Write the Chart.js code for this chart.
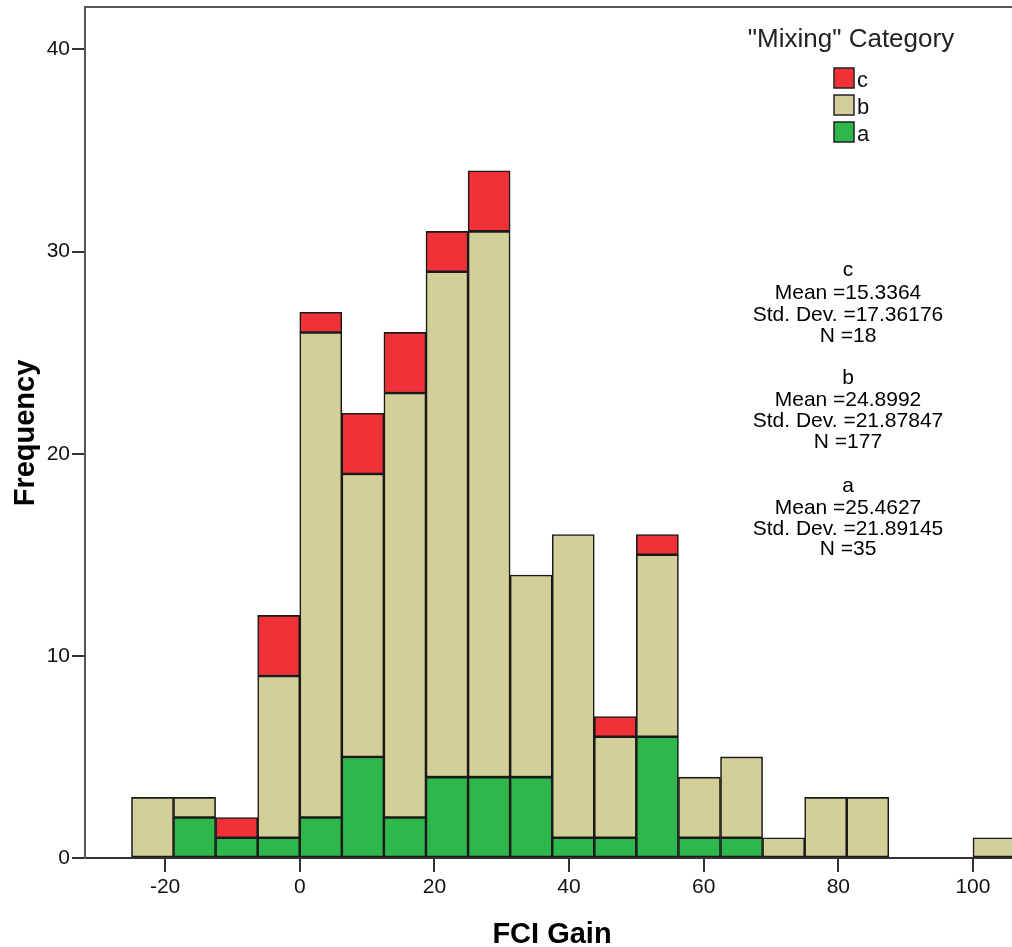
<!DOCTYPE html>
<html>
<head>
<meta charset="utf-8">
<script src="https://cdn.jsdelivr.net/npm/chart.js@4/dist/chart.umd.min.js"></script>
<style>
html,body{margin:0;padding:0;background:#fff;}
#wrap{width:1012px;height:947px;position:relative;}
</style>
</head>
<body>
<div id="wrap"><canvas id="c" width="1012" height="947"></canvas></div>
<script>
const binCenters = [-21.875, -15.625, -9.375, -3.125, 3.125, 9.375, 15.625, 21.875, 28.125, 34.375, 40.625, 46.875, 53.125, 59.375, 65.625, 71.875, 78.125, 84.375, 90.625, 96.875, 103.125];
const countsA = [0, 2, 1, 1, 2, 5, 2, 4, 4, 4, 1, 1, 6, 1, 1, 0, 0, 0, 0, 0, 0];
const countsB = [3, 1, 0, 8, 24, 14, 21, 25, 27, 10, 15, 5, 9, 3, 4, 1, 3, 3, 0, 0, 1];
const countsC = [0, 0, 1, 3, 1, 3, 3, 2, 3, 0, 0, 1, 1, 0, 0, 0, 0, 0, 0, 0, 0];
const xTicks = [-20, 0, 20, 40, 60, 80, 100];
const yTicks = [0, 10, 20, 30, 40];
const legendTitle = '"Mixing" Category';
const statsLines = [
  ['c', 'Mean =15.3364', 'Std. Dev. =17.36176', 'N =18'],
  ['b', 'Mean =24.8992', 'Std. Dev. =21.87847', 'N =177'],
  ['a', 'Mean =25.4627', 'Std. Dev. =21.89145', 'N =35']
];
const statsBaselines = [[276, 299, 321, 342], [384, 406, 427, 448], [492, 514, 535, 555]];
const colA = '#2eb84b', colB = '#d3cf98', colC = '#f03238';
const FONT = '"Liberation Sans", Arial, sans-serif';

function pts(arr){ return binCenters.map((x,i)=>({x:x, y:arr[i]})); }

const overlay = {
  id:'overlay',
  afterDraw(chart){
    const ctx = chart.ctx, ca = chart.chartArea;
    ctx.save();
    ctx.strokeStyle = '#555'; ctx.lineWidth = 2;
    ctx.beginPath(); ctx.moveTo(ca.left - 1, ca.top); ctx.lineTo(1012, ca.top); ctx.stroke();
    // axis titles
    ctx.fillStyle = '#000';
    ctx.font = 'bold 29px ' + FONT;
    ctx.textAlign = 'center'; ctx.textBaseline = 'alphabetic';
    ctx.fillText('FCI Gain', 552, 943);
    ctx.save(); ctx.translate(34, 433); ctx.rotate(-Math.PI/2);
    ctx.fillText('Frequency', 0, 0); ctx.restore();
    // legend
    ctx.fillStyle = '#222';
    ctx.font = '26px ' + FONT;
    ctx.fillText(legendTitle, 851, 47);
    const ds = chart.data.datasets.slice().reverse();
    ds.forEach((d,i)=>{
      const y = 68 + i*27;
      ctx.fillStyle = d.backgroundColor;
      ctx.fillRect(834, y, 20, 20);
      ctx.strokeStyle = '#222'; ctx.lineWidth = 1.5;
      ctx.strokeRect(834, y, 20, 20);
      ctx.fillStyle = '#111'; ctx.font = '22px ' + FONT;
      ctx.textAlign = 'left';
      ctx.fillText(d.label, 857, y + 19);
      ctx.textAlign = 'center';
    });
    // stats
    ctx.fillStyle = '#000'; ctx.font = '21px ' + FONT;
    statsLines.forEach((grp,g)=>{
      grp.forEach((t,j)=>{ ctx.fillText(t, 848, statsBaselines[g][j]); });
    });
    ctx.restore();
  }
};

new Chart(document.getElementById('c'), {
  type:'bar',
  data:{
    datasets:[
      {label:'a', data:pts(countsA), backgroundColor:colA, borderColor:'#1a1a1a', borderWidth:1.6, borderSkipped:false},
      {label:'b', data:pts(countsB), backgroundColor:colB, borderColor:'#1a1a1a', borderWidth:1.6, borderSkipped:false},
      {label:'c', data:pts(countsC), backgroundColor:colC, borderColor:'#1a1a1a', borderWidth:1.6, borderSkipped:false}
    ]
  },
  options:{
    responsive:false, animation:false,
    layout:{padding:{top:7, right:0, left:0, bottom:0}},
    plugins:{legend:{display:false}, tooltip:{enabled:false}},
    datasets:{bar:{barPercentage:1, categoryPercentage:1}},
    scales:{
      x:{
        type:'linear', stacked:true, min:-31.9, max:105.8, offset:false,
        afterFit(s){ s.height = 89; s.paddingLeft = 0; s.paddingRight = 0; },
        afterBuildTicks(s){ s.ticks = xTicks.map(v=>({value:v})); },
        grid:{display:true, offset:false, drawOnChartArea:false, drawTicks:true, tickLength:14, color:'#333', lineWidth:2},
        border:{display:true, color:'#333', width:2},
        ticks:{color:'#111', font:{family:FONT, size:21}, padding:3, maxRotation:0, autoSkip:false}
      },
      y:{
        type:'linear', stacked:true, min:0, max:42.1,
        afterFit(s){ s.width = 85; s.paddingTop = 0; s.paddingBottom = 0; },
        afterBuildTicks(s){ s.ticks = yTicks.map(v=>({value:v})); },
        grid:{display:true, drawOnChartArea:false, drawTicks:true, tickLength:13, color:'#333', lineWidth:2},
        border:{display:true, color:'#555', width:2},
        ticks:{color:'#111', font:{family:FONT, size:21}, padding:2}
      }
    }
  },
  plugins:[overlay]
});
</script>
</body>
</html>
